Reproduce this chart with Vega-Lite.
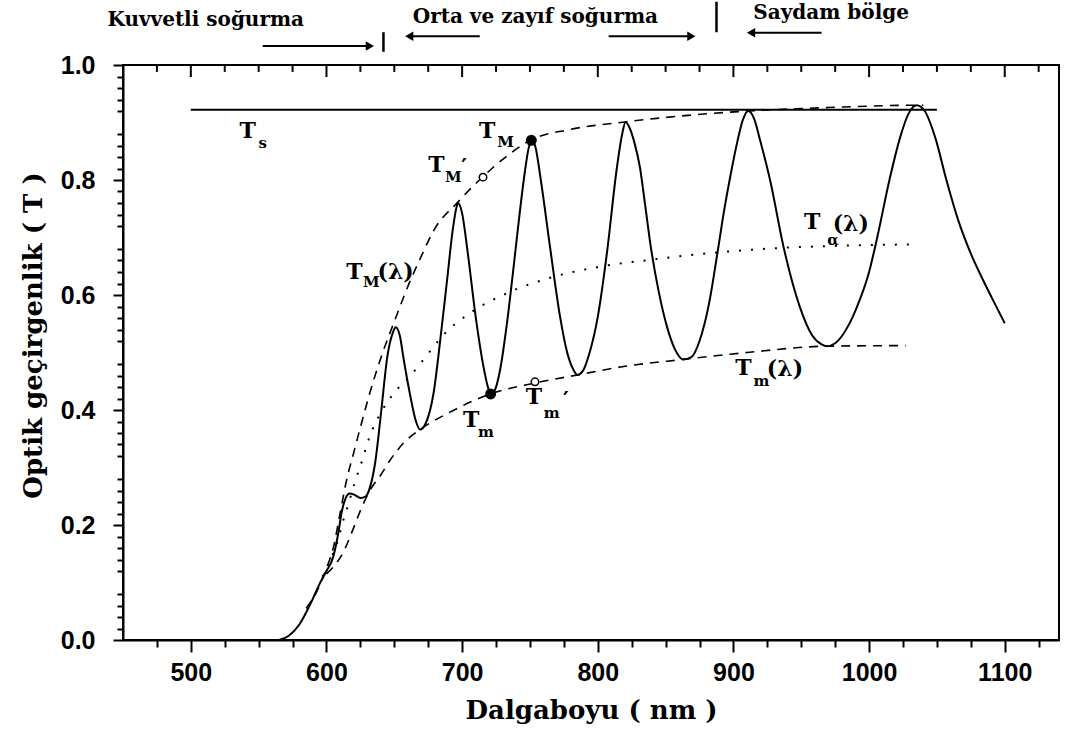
{
  "$schema": "https://vega.github.io/schema/vega-lite/v6.json",
  "width": 936,
  "height": 575,
  "autosize": "none",
  "padding": {"left": 123, "top": 65, "right": 9, "bottom": 100},
  "background": "white",
  "config": {
    "view": {"stroke": "black", "strokeWidth": 2},
    "axis": {
      "grid": false,
      "domainColor": "black",
      "domainWidth": 2,
      "tickColor": "black",
      "tickWidth": 2,
      "labelColor": "black",
      "labelFont": "Liberation Sans",
      "labelFontSize": 25,
      "labelFontWeight": "bold",
      "titleColor": "black",
      "titleFont": "DejaVu Serif",
      "titleFontSize": 26,
      "titleFontWeight": "bold"
    }
  },
  "datasets": {
    "transmission": [
      {"lam": 565, "t": 0.0}, {"lam": 572, "t": 0.007}, {"lam": 580, "t": 0.027}, {"lam": 588, "t": 0.062},
      {"lam": 595, "t": 0.098}, {"lam": 600, "t": 0.12}, {"lam": 605, "t": 0.145}, {"lam": 609, "t": 0.19},
      {"lam": 611, "t": 0.22}, {"lam": 614, "t": 0.246}, {"lam": 617, "t": 0.255}, {"lam": 621, "t": 0.252},
      {"lam": 625, "t": 0.247}, {"lam": 629, "t": 0.25}, {"lam": 632, "t": 0.265}, {"lam": 636, "t": 0.31},
      {"lam": 640, "t": 0.39}, {"lam": 645, "t": 0.495}, {"lam": 649, "t": 0.535}, {"lam": 651, "t": 0.544},
      {"lam": 654, "t": 0.53}, {"lam": 657, "t": 0.487}, {"lam": 662, "t": 0.422}, {"lam": 666, "t": 0.38},
      {"lam": 669, "t": 0.366}, {"lam": 673, "t": 0.376}, {"lam": 679, "t": 0.43}, {"lam": 684, "t": 0.524},
      {"lam": 689, "t": 0.628}, {"lam": 693, "t": 0.712}, {"lam": 696, "t": 0.754}, {"lam": 697, "t": 0.76},
      {"lam": 700, "t": 0.742}, {"lam": 704, "t": 0.676}, {"lam": 710, "t": 0.562}, {"lam": 716, "t": 0.472},
      {"lam": 719, "t": 0.44}, {"lam": 721, "t": 0.428}, {"lam": 724, "t": 0.434}, {"lam": 728, "t": 0.47},
      {"lam": 733, "t": 0.55}, {"lam": 738, "t": 0.65}, {"lam": 741, "t": 0.713}, {"lam": 746, "t": 0.81},
      {"lam": 749, "t": 0.855}, {"lam": 751.5, "t": 0.87}, {"lam": 754, "t": 0.858}, {"lam": 758, "t": 0.8},
      {"lam": 765, "t": 0.68}, {"lam": 772, "t": 0.565}, {"lam": 778, "t": 0.495}, {"lam": 782, "t": 0.47},
      {"lam": 785, "t": 0.461}, {"lam": 789, "t": 0.468}, {"lam": 794, "t": 0.5}, {"lam": 800, "t": 0.562},
      {"lam": 807, "t": 0.678}, {"lam": 814, "t": 0.82}, {"lam": 818, "t": 0.88}, {"lam": 820.5, "t": 0.901},
      {"lam": 823, "t": 0.893}, {"lam": 827, "t": 0.865}, {"lam": 831, "t": 0.823}, {"lam": 835, "t": 0.755},
      {"lam": 839, "t": 0.685}, {"lam": 845, "t": 0.605}, {"lam": 851, "t": 0.545}, {"lam": 857, "t": 0.505},
      {"lam": 863, "t": 0.488}, {"lam": 869, "t": 0.492}, {"lam": 875, "t": 0.52}, {"lam": 882, "t": 0.585},
      {"lam": 888, "t": 0.67}, {"lam": 893, "t": 0.745}, {"lam": 898, "t": 0.81}, {"lam": 903, "t": 0.868},
      {"lam": 907, "t": 0.905}, {"lam": 911, "t": 0.92}, {"lam": 915, "t": 0.908}, {"lam": 920, "t": 0.866},
      {"lam": 927, "t": 0.8}, {"lam": 937, "t": 0.683}, {"lam": 949, "t": 0.579}, {"lam": 958, "t": 0.53},
      {"lam": 965, "t": 0.514}, {"lam": 969, "t": 0.511}, {"lam": 975, "t": 0.516}, {"lam": 985, "t": 0.548},
      {"lam": 991, "t": 0.579}, {"lam": 1000, "t": 0.64}, {"lam": 1006, "t": 0.7}, {"lam": 1015, "t": 0.8},
      {"lam": 1023, "t": 0.875}, {"lam": 1029, "t": 0.915}, {"lam": 1035, "t": 0.93}, {"lam": 1041, "t": 0.92},
      {"lam": 1049, "t": 0.872}, {"lam": 1057, "t": 0.8}, {"lam": 1066, "t": 0.728}, {"lam": 1075, "t": 0.672},
      {"lam": 1084, "t": 0.626}, {"lam": 1092, "t": 0.588}, {"lam": 1100, "t": 0.551}
    ],
    "envelopeMax": [
      {"lam": 585, "t": 0.055}, {"lam": 593, "t": 0.085}, {"lam": 600, "t": 0.125}, {"lam": 605, "t": 0.16},
      {"lam": 610, "t": 0.22}, {"lam": 615, "t": 0.28}, {"lam": 620, "t": 0.325}, {"lam": 625, "t": 0.37},
      {"lam": 632, "t": 0.43}, {"lam": 640, "t": 0.49}, {"lam": 651, "t": 0.56}, {"lam": 660, "t": 0.615},
      {"lam": 670, "t": 0.668}, {"lam": 679, "t": 0.712}, {"lam": 697, "t": 0.762}, {"lam": 715, "t": 0.805},
      {"lam": 730, "t": 0.836}, {"lam": 751, "t": 0.87}, {"lam": 780, "t": 0.888}, {"lam": 820, "t": 0.901},
      {"lam": 860, "t": 0.911}, {"lam": 911, "t": 0.92}, {"lam": 970, "t": 0.926}, {"lam": 1035, "t": 0.93},
      {"lam": 1040, "t": 0.93}
    ],
    "envelopeMin": [
      {"lam": 600, "t": 0.115}, {"lam": 605, "t": 0.127}, {"lam": 612, "t": 0.151}, {"lam": 620, "t": 0.195},
      {"lam": 625, "t": 0.225}, {"lam": 632, "t": 0.26}, {"lam": 640, "t": 0.287}, {"lam": 647, "t": 0.313},
      {"lam": 657, "t": 0.343}, {"lam": 669, "t": 0.366}, {"lam": 690, "t": 0.395}, {"lam": 721, "t": 0.428},
      {"lam": 754, "t": 0.447}, {"lam": 785, "t": 0.461}, {"lam": 820, "t": 0.476}, {"lam": 863, "t": 0.488},
      {"lam": 910, "t": 0.5}, {"lam": 969, "t": 0.511}, {"lam": 1027, "t": 0.512}
    ],
    "absorptionFree": [
      {"lam": 597, "t": 0.11}, {"lam": 603, "t": 0.14}, {"lam": 608, "t": 0.17}, {"lam": 612, "t": 0.205},
      {"lam": 616, "t": 0.235}, {"lam": 621, "t": 0.275}, {"lam": 626, "t": 0.31}, {"lam": 632, "t": 0.355},
      {"lam": 640, "t": 0.395}, {"lam": 650, "t": 0.43}, {"lam": 662, "t": 0.46}, {"lam": 674, "t": 0.495},
      {"lam": 686, "t": 0.53}, {"lam": 708, "t": 0.572}, {"lam": 733, "t": 0.603}, {"lam": 765, "t": 0.63},
      {"lam": 801, "t": 0.649}, {"lam": 838, "t": 0.661}, {"lam": 888, "t": 0.674}, {"lam": 936, "t": 0.682},
      {"lam": 985, "t": 0.686}, {"lam": 1032, "t": 0.688}
    ],
    "substrate": [{"lam": 500, "t": 0.922}, {"lam": 1050, "t": 0.922}],
    "extremaFilled": [{"lam": 751, "t": 0.869}, {"lam": 721, "t": 0.428}],
    "extremaOpen": [{"lam": 715.4, "t": 0.805}, {"lam": 753.7, "t": 0.449}],
    "symbols": [
      {"lam": 542, "t": 0.885, "txt": "T"},
      {"lam": 718.4, "t": 0.885, "txt": "T"},
      {"lam": 681, "t": 0.826, "txt": "T"},
      {"lam": 701.5, "t": 0.822, "txt": "′"},
      {"lam": 620.6, "t": 0.64, "txt": "T"},
      {"lam": 651, "t": 0.64, "txt": "(λ)"},
      {"lam": 706.6, "t": 0.383, "txt": "T"},
      {"lam": 753, "t": 0.423, "txt": "T"},
      {"lam": 776.5, "t": 0.418, "txt": "′"},
      {"lam": 958, "t": 0.727, "txt": "T"},
      {"lam": 986.5, "t": 0.723, "txt": "(λ)"},
      {"lam": 907.4, "t": 0.473, "txt": "T"},
      {"lam": 938, "t": 0.471, "txt": "(λ)"}
    ],
    "subscripts": [
      {"lam": 553, "t": 0.864, "txt": "s"},
      {"lam": 732, "t": 0.866, "txt": "M"},
      {"lam": 693.4, "t": 0.805, "txt": "M"},
      {"lam": 633, "t": 0.623, "txt": "M"},
      {"lam": 717.6, "t": 0.362, "txt": "m"},
      {"lam": 766, "t": 0.395, "txt": "m"},
      {"lam": 973.5, "t": 0.696, "txt": "α"},
      {"lam": 920.6, "t": 0.45, "txt": "m"}
    ],
    "regions": [
      {"lam": 511, "t": 1.078, "txt": "Kuvvetli soğurma"},
      {"lam": 754, "t": 1.083, "txt": "Orta ve zayıf soğurma"},
      {"lam": 972, "t": 1.09, "txt": "Saydam bölge"}
    ],
    "arrows": [
      {"start": 553, "end": 632, "t": 1.033, "dir": "right"},
      {"start": 713, "end": 661, "t": 1.05, "dir": "left"},
      {"start": 808, "end": 869, "t": 1.05, "dir": "right"},
      {"start": 965, "end": 913, "t": 1.056, "dir": "left"}
    ],
    "boundaries": [
      {"lam": 642, "t0": 1.023, "t1": 1.057},
      {"lam": 887.5, "t0": 1.057, "t1": 1.11}
    ],
    "topMajor": [
      {"lam": 500, "t0": 1, "t1": 0.979}, {"lam": 600, "t0": 1, "t1": 0.979}, {"lam": 700, "t0": 1, "t1": 0.979},
      {"lam": 800, "t0": 1, "t1": 0.979}, {"lam": 900, "t0": 1, "t1": 0.979}, {"lam": 1000, "t0": 1, "t1": 0.979},
      {"lam": 1100, "t0": 1, "t1": 0.979}
    ],
    "topMinor": [
      {"lam": 475, "t0": 1, "t1": 0.988}, {"lam": 525, "t0": 1, "t1": 0.988}, {"lam": 550, "t0": 1, "t1": 0.988},
      {"lam": 575, "t0": 1, "t1": 0.988}, {"lam": 625, "t0": 1, "t1": 0.988}, {"lam": 650, "t0": 1, "t1": 0.988},
      {"lam": 675, "t0": 1, "t1": 0.988}, {"lam": 725, "t0": 1, "t1": 0.988}, {"lam": 750, "t0": 1, "t1": 0.988},
      {"lam": 775, "t0": 1, "t1": 0.988}, {"lam": 825, "t0": 1, "t1": 0.988}, {"lam": 850, "t0": 1, "t1": 0.988},
      {"lam": 875, "t0": 1, "t1": 0.988}, {"lam": 925, "t0": 1, "t1": 0.988}, {"lam": 950, "t0": 1, "t1": 0.988},
      {"lam": 975, "t0": 1, "t1": 0.988}, {"lam": 1025, "t0": 1, "t1": 0.988}, {"lam": 1050, "t0": 1, "t1": 0.988},
      {"lam": 1075, "t0": 1, "t1": 0.988}, {"lam": 1125, "t0": 1, "t1": 0.988}
    ]
  },
  "resolve": {"axis": {"x": "independent", "y": "independent"}},
  "layer": [
    {
      "data": {"name": "transmission"},
      "mark": {"type": "line", "color": "black", "strokeWidth": 2, "interpolate": "monotone"},
      "encoding": {
        "x": {"field": "lam", "type": "quantitative", "scale": {"domain": [450, 1140], "nice": false, "zero": false},
          "axis": {"orient": "bottom", "values": [500, 600, 700, 800, 900, 1000, 1100], "format": "d", "tickSize": 12, "labelPadding": 8,
            "title": "Dalgaboyu ( nm )", "titlePadding": 12}},
        "y": {"field": "t", "type": "quantitative", "scale": {"domain": [0, 1], "nice": false, "zero": false},
          "axis": {"orient": "left", "values": [0, 0.2, 0.4, 0.6, 0.8, 1.0], "format": ".1f", "tickSize": 10, "labelPadding": 18,
            "title": "Optik geçirgenlik ( T )", "titlePadding": 14, "titleY": 270}}
      }
    },
    {
      "data": {"name": "envelopeMax"},
      "mark": {"type": "line", "color": "black", "strokeWidth": 1.6, "strokeDash": [9, 7], "interpolate": "monotone"},
      "encoding": {
        "x": {"field": "lam", "type": "quantitative", "scale": {"domain": [450, 1140], "nice": false, "zero": false},
          "axis": {"orient": "bottom", "values": [475, 525, 550, 575, 625, 650, 675, 725, 750, 775, 825, 850, 875, 925, 950, 975, 1025, 1050, 1075, 1125],
            "tickSize": 7, "labels": false, "domain": false, "title": null}},
        "y": {"field": "t", "type": "quantitative", "scale": {"domain": [0, 1], "nice": false, "zero": false},
          "axis": {"orient": "left", "values": [0.02, 0.04, 0.06, 0.08, 0.12, 0.14, 0.16, 0.18, 0.22, 0.24, 0.26, 0.28, 0.32, 0.34, 0.36, 0.38, 0.42, 0.44, 0.46, 0.48, 0.52, 0.54, 0.56, 0.58, 0.62, 0.64, 0.66, 0.68, 0.72, 0.74, 0.76, 0.78, 0.82, 0.84, 0.86, 0.88, 0.92, 0.94, 0.96, 0.98],
            "tickSize": 6, "labels": false, "domain": false, "title": null}}
      }
    },
    {
      "data": {"name": "envelopeMin"},
      "mark": {"type": "line", "color": "black", "strokeWidth": 1.6, "strokeDash": [9, 7], "interpolate": "monotone"},
      "encoding": {
        "x": {"field": "lam", "type": "quantitative", "axis": null},
        "y": {"field": "t", "type": "quantitative", "axis": null}
      }
    },
    {
      "data": {"name": "absorptionFree"},
      "mark": {"type": "line", "color": "black", "strokeWidth": 2, "strokeDash": [2, 10], "interpolate": "monotone"},
      "encoding": {
        "x": {"field": "lam", "type": "quantitative", "axis": null},
        "y": {"field": "t", "type": "quantitative", "axis": null}
      }
    },
    {
      "data": {"name": "topMajor"},
      "mark": {"type": "rule", "color": "black", "strokeWidth": 2},
      "encoding": {
        "x": {"field": "lam", "type": "quantitative", "axis": null},
        "y": {"field": "t0", "type": "quantitative", "axis": null},
        "y2": {"field": "t1"}
      }
    },
    {
      "data": {"name": "topMinor"},
      "mark": {"type": "rule", "color": "black", "strokeWidth": 2},
      "encoding": {
        "x": {"field": "lam", "type": "quantitative", "axis": null},
        "y": {"field": "t0", "type": "quantitative", "axis": null},
        "y2": {"field": "t1"}
      }
    },
    {
      "data": {"name": "substrate"},
      "mark": {"type": "line", "color": "black", "strokeWidth": 2},
      "encoding": {
        "x": {"field": "lam", "type": "quantitative", "axis": null},
        "y": {"field": "t", "type": "quantitative", "axis": null}
      }
    },
    {
      "data": {"name": "extremaFilled"},
      "mark": {"type": "point", "filled": true, "color": "black", "size": 120, "opacity": 1},
      "encoding": {
        "x": {"field": "lam", "type": "quantitative", "axis": null},
        "y": {"field": "t", "type": "quantitative", "axis": null}
      }
    },
    {
      "data": {"name": "extremaOpen"},
      "mark": {"type": "point", "filled": false, "fill": "white", "stroke": "black", "strokeWidth": 1.5, "size": 55, "opacity": 1},
      "encoding": {
        "x": {"field": "lam", "type": "quantitative", "axis": null},
        "y": {"field": "t", "type": "quantitative", "axis": null}
      }
    },
    {
      "data": {"name": "symbols"},
      "mark": {"type": "text", "font": "DejaVu Serif", "fontSize": 22, "fontWeight": "bold", "color": "black", "align": "center", "baseline": "middle"},
      "encoding": {
        "x": {"field": "lam", "type": "quantitative", "axis": null},
        "y": {"field": "t", "type": "quantitative", "axis": null},
        "text": {"field": "txt"}
      }
    },
    {
      "data": {"name": "subscripts"},
      "mark": {"type": "text", "font": "DejaVu Serif", "fontSize": 15, "fontWeight": "bold", "color": "black", "align": "center", "baseline": "middle"},
      "encoding": {
        "x": {"field": "lam", "type": "quantitative", "axis": null},
        "y": {"field": "t", "type": "quantitative", "axis": null},
        "text": {"field": "txt"}
      }
    },
    {
      "data": {"name": "regions"},
      "mark": {"type": "text", "font": "DejaVu Serif", "fontSize": 20, "fontWeight": "bold", "color": "black", "align": "center", "baseline": "middle"},
      "encoding": {
        "x": {"field": "lam", "type": "quantitative", "axis": null},
        "y": {"field": "t", "type": "quantitative", "axis": null},
        "text": {"field": "txt"}
      }
    },
    {
      "data": {"name": "arrows"},
      "mark": {"type": "rule", "color": "black", "strokeWidth": 2},
      "encoding": {
        "x": {"field": "start", "type": "quantitative", "axis": null},
        "x2": {"field": "end"},
        "y": {"field": "t", "type": "quantitative", "axis": null}
      }
    },
    {
      "data": {"name": "arrows"},
      "transform": [{"filter": "datum.dir === 'right'"}],
      "mark": {"type": "point", "shape": "triangle-right", "filled": true, "color": "black", "size": 90, "opacity": 1},
      "encoding": {
        "x": {"field": "end", "type": "quantitative", "axis": null},
        "y": {"field": "t", "type": "quantitative", "axis": null}
      }
    },
    {
      "data": {"name": "arrows"},
      "transform": [{"filter": "datum.dir === 'left'"}],
      "mark": {"type": "point", "shape": "triangle-left", "filled": true, "color": "black", "size": 90, "opacity": 1},
      "encoding": {
        "x": {"field": "end", "type": "quantitative", "axis": null},
        "y": {"field": "t", "type": "quantitative", "axis": null}
      }
    },
    {
      "data": {"name": "boundaries"},
      "mark": {"type": "rule", "color": "black", "strokeWidth": 2.5},
      "encoding": {
        "x": {"field": "lam", "type": "quantitative", "axis": null},
        "y": {"field": "t0", "type": "quantitative", "axis": null},
        "y2": {"field": "t1"}
      }
    }
  ]
}
